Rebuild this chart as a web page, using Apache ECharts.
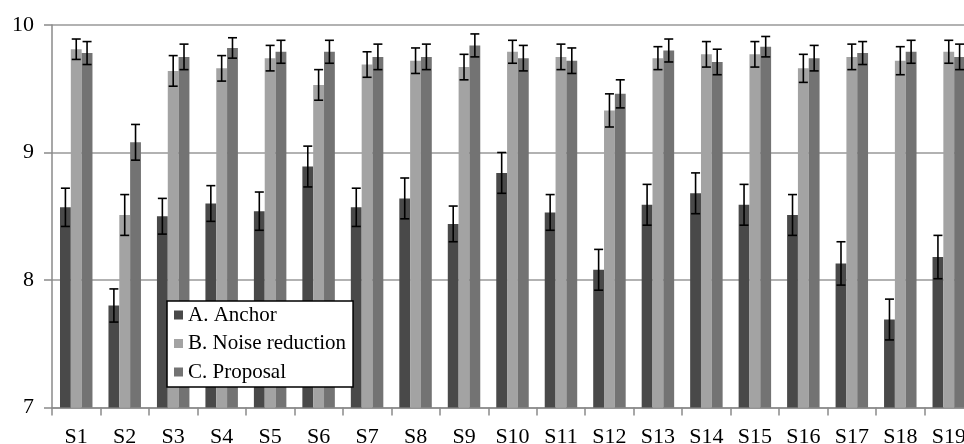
<!DOCTYPE html>
<html>
<head>
<meta charset="utf-8">
<style>
  html, body { margin: 0; padding: 0; background: #fff; }
  #chart { width: 964px; height: 444px; }
</style>
<script src="https://cdn.jsdelivr.net/npm/echarts@6/dist/echarts.min.js"></script>
</head>
<body>
<div id="chart"></div>
<script>
// Subjects on the x axis
const categories = ['S1','S2','S3','S4','S5','S6','S7','S8','S9','S10','S11','S12','S13','S14','S15','S16','S17','S18','S19'];

// Mean scores and error half-widths per method
const anchorMean = [8.57,7.80,8.50,8.60,8.54,8.89,8.57,8.64,8.44,8.84,8.53,8.08,8.59,8.68,8.59,8.51,8.13,7.69,8.18];
const anchorErr  = [0.15,0.13,0.14,0.14,0.15,0.16,0.15,0.16,0.14,0.16,0.14,0.16,0.16,0.16,0.16,0.16,0.17,0.16,0.17];
const noiseMean  = [9.81,8.51,9.64,9.66,9.74,9.53,9.69,9.72,9.67,9.79,9.75,9.33,9.74,9.77,9.77,9.66,9.75,9.72,9.79];
const noiseErr   = [0.08,0.16,0.12,0.10,0.10,0.12,0.10,0.10,0.10,0.09,0.10,0.13,0.09,0.10,0.10,0.11,0.10,0.11,0.09];
const propMean   = [9.78,9.08,9.75,9.82,9.79,9.79,9.75,9.75,9.84,9.74,9.72,9.46,9.80,9.71,9.83,9.74,9.78,9.79,9.75];
const propErr    = [0.09,0.14,0.10,0.08,0.09,0.09,0.10,0.10,0.09,0.10,0.10,0.11,0.09,0.10,0.08,0.10,0.09,0.09,0.10];

// Y axis ticks
const yMin = 7, yMax = 10, yStep = 1;

const seriesNames = ['A. Anchor', 'B. Noise reduction', 'C. Proposal'];
const colors = ['#494949', '#a3a3a3', '#737373'];
const means = [anchorMean, noiseMean, propMean];
const errs = [anchorErr, noiseErr, propErr];

const CAT_GAP = 0.33;      // share of each category left empty
const FONT = '"Liberation Serif", "Times New Roman", serif';

// Error bar drawn centred on its bar inside the group
function errorBarRenderer(groupIndex) {
  return function (params, api) {
    const x = api.value(0);
    const lo = api.coord([x, api.value(1) - api.value(2)]);
    const hi = api.coord([x, api.value(1) + api.value(2)]);
    const band = api.size([1, 0])[0];
    const bw = band * (1 - CAT_GAP) / 3;
    const cx = lo[0] + (groupIndex - 1) * bw;
    const cap = 4.5;
    const style = { stroke: '#000', lineWidth: 1.6 };
    return {
      type: 'group',
      children: [
        { type: 'line', shape: { x1: cx, y1: lo[1], x2: cx, y2: hi[1] }, style },
        { type: 'line', shape: { x1: cx - cap, y1: hi[1], x2: cx + cap, y2: hi[1] }, style },
        { type: 'line', shape: { x1: cx - cap, y1: lo[1], x2: cx + cap, y2: lo[1] }, style }
      ]
    };
  };
}

const series = [];
seriesNames.forEach(function (name, i) {
  series.push({
    name: name,
    type: 'bar',
    data: means[i],
    itemStyle: { color: colors[i] },
    barGap: '0%',
    barCategoryGap: (CAT_GAP * 100) + '%',
    clip: true,
    silent: true
  });
});
seriesNames.forEach(function (name, i) {
  series.push({
    type: 'custom',
    renderItem: errorBarRenderer(i),
    data: means[i].map(function (v, k) { return [k, v, errs[i][k]]; }),
    encode: { x: 0, y: 1 },
    z: 5,
    silent: true
  });
});

const chart = echarts.init(document.getElementById('chart'), null, { renderer: 'canvas' });
chart.setOption({
  animation: false,
  backgroundColor: '#fff',
  textStyle: { fontFamily: FONT },
  grid: {
    left: 52, top: 25, width: 921, height: 382.5,
    containLabel: false,
    outerBoundsMode: 'none'
  },
  legend: {
    data: seriesNames,
    orient: 'vertical',
    left: 167,
    top: 301,
    icon: 'rect',
    itemWidth: 9,
    itemHeight: 9,
    itemGap: 7.5,
    padding: [3.5, 7, 4.5, 7],
    backgroundColor: '#fff',
    borderColor: '#000',
    borderWidth: 1.5,
    borderRadius: 0,
    textStyle: { fontFamily: FONT, fontSize: 21, color: '#000', padding: [0, 0, 0, 0] }
  },
  xAxis: {
    type: 'category',
    data: categories,
    boundaryGap: true,
    axisLine: { lineStyle: { color: '#8a8a8a', width: 1.5 } },
    axisTick: { show: true, length: 8, lineStyle: { color: '#8a8a8a', width: 1.5 } },
    axisLabel: { fontFamily: FONT, fontSize: 22, color: '#000', margin: 19, interval: 0, hideOverlap: false }
  },
  yAxis: {
    type: 'value',
    min: yMin,
    max: yMax,
    interval: yStep,
    axisLine: { show: true, lineStyle: { color: '#8a8a8a', width: 1.5 } },
    axisTick: { show: true, length: 8, lineStyle: { color: '#8a8a8a', width: 1.5 } },
    splitLine: { show: true, lineStyle: { color: '#999', width: 1.5 } },
    axisLabel: { fontFamily: FONT, fontSize: 22, color: '#000', margin: 18 }
  },
  series: series
});
</script>
</body>
</html>
